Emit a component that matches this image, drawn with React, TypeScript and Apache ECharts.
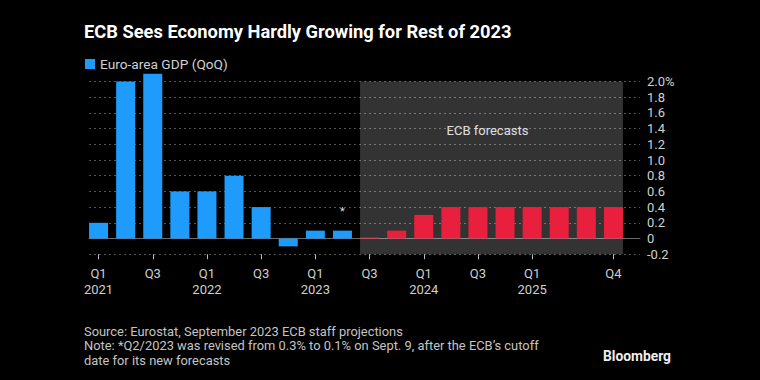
import React, { useEffect, useRef } from "react";
import * as echarts from "echarts";

const categories = [
  "Q1 2021", "Q2 2021", "Q3 2021", "Q4 2021",
  "Q1 2022", "Q2 2022", "Q3 2022", "Q4 2022",
  "Q1 2023", "Q2 2023", "Q3 2023", "Q4 2023",
  "Q1 2024", "Q2 2024", "Q3 2024", "Q4 2024",
  "Q1 2025", "Q2 2025", "Q3 2025", "Q4 2025",
];
// Actual euro-area GDP QoQ (%), 2021Q1 - 2023Q2
const actualGdp = [0.2, 2.0, 2.1, 0.6, 0.6, 0.8, 0.4, -0.1, 0.1, 0.1];
// ECB staff projections (%), 2023Q3 - 2025Q4
const forecastGdp = [0.0, 0.1, 0.3, 0.4, 0.4, 0.4, 0.4, 0.4, 0.4, 0.4];
const labelledIndices = [0, 2, 4, 6, 8, 10, 12, 14, 16, 19];
const revisedIndex = 9; // Q2 2023, marked with *
const yTicks = { min: -0.2, max: 2.0, interval: 0.2 };

const TITLE = "ECB Sees Economy Hardly Growing for Rest of 2023";
const SERIES_NAME = "Euro-area GDP (QoQ)";
const FOOTER = [
  "Source: Eurostat, September 2023 ECB staff projections",
  "Note: *Q2/2023 was revised from 0.3% to 0.1% on Sept. 9, after the ECB\u2019s cutoff",
  "date for its new forecasts",
];

const BLUE = "#1f9cfb";
const RED = "#e8203d";
const FONT = "Roboto";
const BAR_W = 19;

export default function App() {
  const ref = useRef<HTMLDivElement>(null);
  useEffect(() => {
    document.body.style.margin = "0";
    document.body.style.background = "#000";
    if (!ref.current) return;
    const chart = echarts.init(ref.current, undefined, { renderer: "svg" });
    const n = categories.length;
    const actualData = categories.map((_, i) =>
      i < actualGdp.length
        ? i === revisedIndex
          ? {
              value: actualGdp[i],
              label: {
                show: true,
                position: "top",
                distance: 14,
                formatter: "*",
                color: "#ddd",
                fontSize: 11,
                fontFamily: FONT,
              },
            }
          : actualGdp[i]
        : "-"
    );
    const forecastData = categories.map((_, i) =>
      i >= actualGdp.length ? forecastGdp[i - actualGdp.length] : "-"
    );
    const fcStart = actualGdp.length;
    const fcEnd = n - 1;

    const option: any = {
      animation: false,
      backgroundColor: "#000",
      textStyle: { fontFamily: FONT },
      title: [
        {
          text: TITLE,
          left: 79,
          top: 17,
          textStyle: { color: "#fff", fontSize: 18.3, fontWeight: "bold", fontFamily: FONT },
        },
        {
          text: FOOTER.join("\n"),
          left: 79,
          top: 319,
          textStyle: {
            color: "#c4c4c4",
            fontSize: 12.9,
            fontWeight: "normal",
            lineHeight: 14.5,
            fontFamily: FONT,
          },
        },
        {
          text: "Bloomberg",
          left: 598,
          top: 344,
          textStyle: { color: "#eee", fontSize: 13.8, fontWeight: "bold", fontFamily: FONT },
        },
      ],
      legend: {
        data: [SERIES_NAME],
        left: 80,
        top: 52,
        icon: "rect",
        itemWidth: 10,
        itemHeight: 10,
        itemGap: 5,
        textStyle: { color: "#d0d0d0", fontSize: 13.7, fontFamily: FONT },
      },
      grid: [
        { left: 85, right: 133, top: 81.5, bottom: 125.8 },
        { left: 89, right: 120, top: 81.5, bottom: 125.8 },
      ],
      xAxis: [
        {
          type: "category",
          gridIndex: 0,
          data: categories,
          axisLine: { show: false, onZero: false },
          axisTick: {
            show: true,
            alignWithLabel: true,
            length: 5,
            interval: (i: number) => labelledIndices.includes(i),
            lineStyle: { color: "#bbb" },
          },
          axisLabel: {
            interval: (i: number) => labelledIndices.includes(i),
            formatter: (v: string) => {
              const [q, y] = v.split(" ");
              return q === "Q1" ? `${q}\n${y}` : q;
            },
            color: "#cfcfcf",
            fontSize: 13,
            lineHeight: 16,
            margin: 11,
            fontFamily: FONT,
          },
          splitLine: { show: false },
        },
        {
          type: "value",
          gridIndex: 1,
          min: 0,
          max: 1,
          axisLine: { show: true, onZero: true, lineStyle: { color: "#6a6a6a", width: 1 } },
          axisTick: { show: false },
          axisLabel: { show: false },
          splitLine: { show: false },
        },
      ],
      yAxis: [
        {
          type: "value",
          gridIndex: 0,
          min: yTicks.min,
          max: yTicks.max,
          interval: yTicks.interval,
          show: false,
          splitLine: { show: false },
        },
        {
          type: "value",
          gridIndex: 1,
          position: "right",
          min: yTicks.min,
          max: yTicks.max,
          interval: yTicks.interval,
          axisLine: { show: false },
          axisTick: { show: false },
          axisLabel: {
            color: "#d0d0d0",
            fontSize: 13,
            margin: 7,
            fontFamily: FONT,
            formatter: (v: number) => {
              const r = Math.round(v * 10) / 10;
              if (Math.abs(r) < 1e-9) return "0";
              if (Math.abs(r - yTicks.max) < 1e-9) return r.toFixed(1) + "%";
              return r.toFixed(1);
            },
          },
          splitLine: {
            show: true,
            lineStyle: { color: "#555", type: [2, 3], width: 1 },
          },
        },
      ],
      series: [
        {
          type: "custom",
          xAxisIndex: 0,
          yAxisIndex: 0,
          z: 1,
          silent: true,
          data: [[fcStart, fcEnd]],
          renderItem: (params: any, api: any) => {
            const a = api.coord([api.value(0), yTicks.max]);
            const b = api.coord([api.value(1), yTicks.min]);
            const x = a[0] - BAR_W / 2;
            const w = b[0] - a[0] + BAR_W;
            const h = b[1] - a[1];
            return {
              type: "group",
              children: [
                {
                  type: "rect",
                  shape: { x, y: a[1], width: w, height: h },
                  style: { fill: "rgba(255,255,255,0.2)" },
                },
                {
                  type: "text",
                  x: x + w / 2 - 4,
                  y: a[1] + h * 0.285,
                  style: {
                    text: "ECB forecasts",
                    fill: "#e0e0e0",
                    fontSize: 13,
                    fontFamily: FONT,
                    textAlign: "center",
                    textVerticalAlign: "middle",
                  },
                },
              ],
            };
          },
        },
        {
          name: SERIES_NAME,
          type: "bar",
          xAxisIndex: 0,
          yAxisIndex: 0,
          data: actualData,
          barWidth: BAR_W,
          barGap: "-100%",
          barMinHeight: 1,
          clip: false,
          z: 3,
          itemStyle: { color: BLUE },
        },
        {
          name: "ECB forecasts",
          type: "bar",
          xAxisIndex: 0,
          yAxisIndex: 0,
          data: forecastData,
          barWidth: BAR_W,
          barGap: "-100%",
          barMinHeight: 1,
          clip: false,
          z: 3,
          itemStyle: { color: RED },
        },
      ],
    };
    chart.setOption(option);
    return () => chart.dispose();
  }, []);
  return <div ref={ref} style={{ width: 760, height: 380 }} />;
}
